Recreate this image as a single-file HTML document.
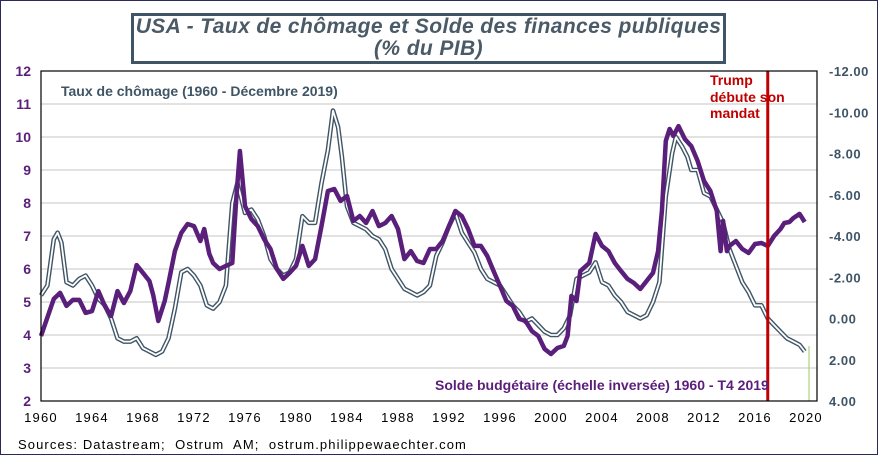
<!DOCTYPE html>
<html><head><meta charset="utf-8"><style>
body{margin:0;background:#fff;}
#wrap{position:relative;width:876px;height:453px;border:1px solid #2a2a5a;overflow:hidden;font-family:"Liberation Sans",sans-serif;}
#title{position:absolute;left:130px;top:12px;width:589px;height:45px;border:3px solid #3f5566;text-align:center;font-style:italic;font-weight:bold;font-size:21px;line-height:22px;color:#4a5a66;letter-spacing:0.4px}
#src{position:absolute;left:17px;top:436px;font-size:13px;color:#000;letter-spacing:1.1px}
</style></head><body>
<div id="wrap">
<div id="title">USA - Taux de chômage et Solde des finances publiques<br>(% du PIB)</div>
<svg id="svg" width="878" height="455" style="position:absolute;left:0;top:0"></svg>
<div id="src">Sources: Datastream;&nbsp; Ostrum&nbsp; AM;&nbsp; ostrum.philippewaechter.com</div>
</div>
<script>
const unempYears=[1960,1960.5,1961,1961.3,1961.6,1962,1962.5,1963,1963.5,1964,1964.5,1965,1965.5,1966,1966.5,1967,1967.5,1968,1968.5,1969,1969.5,1970,1970.5,1971,1971.5,1972,1972.5,1973,1973.5,1974,1974.5,1975,1975.4,1976,1976.5,1977,1977.5,1978,1978.5,1979,1979.5,1980,1980.5,1981,1981.5,1982,1982.5,1982.9,1983.3,1983.6,1984,1984.5,1985,1985.5,1986,1986.5,1987,1987.5,1988,1988.5,1989,1989.5,1990,1990.5,1991,1991.5,1992,1992.5,1993,1993.5,1994,1994.5,1995,1995.5,1996,1996.5,1997,1997.5,1998,1998.5,1999,1999.5,2000,2000.5,2001,2001.5,2002,2002.5,2003,2003.5,2004,2004.5,2005,2005.5,2006,2006.5,2007,2007.5,2008,2008.5,2009,2009.5,2009.8,2010.3,2010.7,2011,2011.5,2012,2012.5,2013,2013.5,2014,2014.5,2015,2015.5,2016,2016.5,2017,2017.5,2018,2018.5,2019,2019.5,2019.9];
const unempValues=[5.2,5.5,6.9,7.1,6.8,5.6,5.5,5.7,5.8,5.5,5.1,4.9,4.5,3.9,3.8,3.8,3.9,3.6,3.5,3.4,3.5,3.9,4.8,5.9,6.0,5.8,5.5,4.9,4.8,5.0,5.5,8.0,8.6,7.7,7.8,7.5,7.0,6.3,6.0,5.8,5.9,6.3,7.6,7.4,7.4,8.6,9.6,10.8,10.3,9.4,7.9,7.4,7.3,7.2,7.0,6.9,6.6,6.0,5.7,5.4,5.3,5.2,5.3,5.5,6.4,6.8,7.3,7.7,7.1,6.8,6.5,6.0,5.7,5.6,5.5,5.2,4.9,4.7,4.4,4.5,4.3,4.1,4.0,4.0,4.2,4.6,5.7,5.8,5.9,6.2,5.6,5.5,5.2,5.0,4.7,4.6,4.5,4.6,5.0,5.6,8.2,9.5,10.0,9.7,9.4,9.0,9.0,8.3,8.2,7.8,7.4,6.6,6.1,5.6,5.3,4.9,4.9,4.5,4.3,4.1,3.9,3.8,3.7,3.5];
const budgetYears=[1960,1961,1961.5,1962,1962.5,1963,1963.5,1964,1964.5,1965,1965.5,1966,1966.5,1967,1967.5,1968,1968.5,1968.8,1969.2,1969.7,1970,1970.5,1971,1971.5,1972,1972.5,1972.8,1973.2,1973.5,1974,1974.5,1975,1975.3,1975.6,1976,1976.5,1977,1977.5,1978,1978.5,1979,1979.5,1980,1980.5,1981,1981.5,1982,1982.5,1983,1983.5,1984,1984.5,1985,1985.5,1986,1986.5,1987,1987.5,1988,1988.5,1989,1989.5,1990,1990.5,1991,1991.5,1992,1992.5,1993,1993.5,1994,1994.5,1995,1995.5,1996,1996.5,1997,1997.5,1998,1998.5,1999,1999.5,2000,2000.5,2001,2001.3,2001.6,2002,2002.3,2003,2003.5,2004,2004.5,2005,2005.5,2006,2006.5,2007,2007.5,2008,2008.4,2008.7,2009,2009.3,2009.6,2010,2010.5,2011,2011.5,2012,2012.5,2013,2013.3,2013.5,2013.8,2014,2014.5,2015,2015.5,2016,2016.5,2017,2017.5,2018,2018.3,2018.7,2019,2019.5,2019.9];
const budgetValues=[0.85,-0.95,-1.24,-0.61,-0.9,-0.9,-0.27,-0.36,-1.33,-0.61,-0.12,-1.33,-0.75,-1.33,-2.59,-2.21,-1.82,-1.14,0.12,-0.85,-1.72,-3.27,-4.15,-4.58,-4.48,-3.76,-4.34,-3.13,-2.69,-2.4,-2.55,-2.69,-5.7,-8.12,-5.45,-4.82,-4.48,-3.85,-3.37,-2.4,-1.92,-2.21,-2.55,-3.52,-2.55,-2.88,-4.48,-6.18,-6.28,-5.7,-5.94,-4.73,-4.97,-4.63,-5.21,-4.48,-4.63,-4.97,-4.34,-2.88,-3.27,-2.79,-2.69,-3.37,-3.37,-3.76,-4.48,-5.21,-4.97,-4.34,-3.52,-3.52,-3.03,-2.3,-1.58,-0.85,-0.61,0.02,0.12,0.61,0.85,1.48,1.72,1.43,1.33,0.85,-1.09,-0.85,-2.3,-2.69,-4.1,-3.52,-3.27,-2.69,-2.3,-1.92,-1.72,-1.43,-1.82,-2.21,-3.27,-5.21,-8.61,-9.19,-8.85,-9.33,-8.7,-8.36,-7.64,-6.67,-6.18,-5.21,-3.27,-4.73,-3.27,-3.52,-3.76,-3.37,-3.18,-3.61,-3.66,-3.52,-4.0,-4.34,-4.63,-4.68,-4.87,-5.07,-4.68];
const xTicks=[1960,1964,1968,1972,1976,1980,1984,1988,1992,1996,2000,2004,2008,2012,2016,2020];
const leftTicks=[2,3,4,5,6,7,8,9,10,11,12];
const rightTicks=[-12,-10,-8,-6,-4,-2,0,2,4];
const trumpYear=2017;

const svg=document.getElementById('svg');
const NS='http://www.w3.org/2000/svg';
const X0=40,X1=816,Y0=70,Y1=400;
const xS=y=>X0+(y-1960)*12.75;
const yL=v=>Y1-(v-2)*(Y1-Y0)/10;
const yR=v=>Y0+(v+12)*(Y1-Y0)/16;
function mk(tag,attrs,parent){const e=document.createElementNS(NS,tag);for(const k in attrs)e.setAttribute(k,attrs[k]);(parent||svg).appendChild(e);return e;}

leftTicks.forEach(t=>{
  if(t>2&&t<12){const g=mk('line',{x1:X0,x2:X1,y1:yL(t),y2:yL(t),stroke:'#d9d9d9','stroke-width':1.5});
  
  }
  const tx=mk('text',{x:30,y:yL(t)+5,'text-anchor':'end','font-size':14,'font-weight':'bold',fill:'#5a1f7a','font-family':'Liberation Sans, sans-serif'});
  tx.textContent=t;
  
  
});
rightTicks.forEach(t=>{
  const tx=mk('text',{x:828,y:yR(t)+5,'font-size':13,'font-weight':'bold',fill:'#3f5566','font-family':'Liberation Sans, sans-serif','letter-spacing':'0.5'});
  tx.textContent=(t<0?'-':'')+Math.abs(t).toFixed(2);
  
  
});
xTicks.forEach(t=>{
  const tx=mk('text',{x:xS(t),y:421,'text-anchor':'middle','font-size':13,fill:'#000','font-family':'Liberation Sans, sans-serif','letter-spacing':'1.2'});
  tx.textContent=t;
  
  
});

function path(xs,ys,fy){return xs.map((x,i)=>(i?'L':'M')+xS(x).toFixed(1)+' '+fy(ys[i]).toFixed(1)).join(' ');}
const du=path(unempYears,unempValues,yL);
const u1=mk('path',{d:du,fill:'none',stroke:'#3f5566','stroke-width':4.6,'stroke-linejoin':'round'});


const u2=mk('path',{d:du,fill:'none',stroke:'#ffffff','stroke-width':1.8,'stroke-linejoin':'round'});


const b=mk('path',{d:path(budgetYears,budgetValues,yR),fill:'none',stroke:'#5a1f7a','stroke-width':4.5,'stroke-linejoin':'round'});



const gl=mk('line',{x1:808,x2:808,y1:345,y2:Y1,stroke:'#9acd5a','stroke-width':1});


const tr=mk('line',{x1:xS(trumpYear),x2:xS(trumpYear),y1:Y0,y2:Y1,stroke:'#c00000','stroke-width':3});


const fr=mk('rect',{x:X0,y:Y0,width:X1-X0,height:Y1-Y0,fill:'none',stroke:'#000','stroke-width':1.2});



[['Trump',84],['débute son',101],['mandat',117]].forEach(([s,y])=>{
  const t=mk('text',{x:709,y:y,'font-size':14,'font-weight':'bold',fill:'#c00000','font-family':'Liberation Sans, sans-serif'});
  t.textContent=s;
  
  
});
const l1=mk('text',{x:60,y:95,'font-size':14,'font-weight':'bold',fill:'#3f5566','font-family':'Liberation Sans, sans-serif'});
l1.textContent='Taux de chômage (1960 - Décembre 2019)';


const l2=mk('text',{x:434,y:389,'font-size':14,'font-weight':'bold',fill:'#5a1f7a','font-family':'Liberation Sans, sans-serif'});
l2.textContent='Solde budgétaire (échelle inversée) 1960 - T4 2019';


</script>
</body></html>
